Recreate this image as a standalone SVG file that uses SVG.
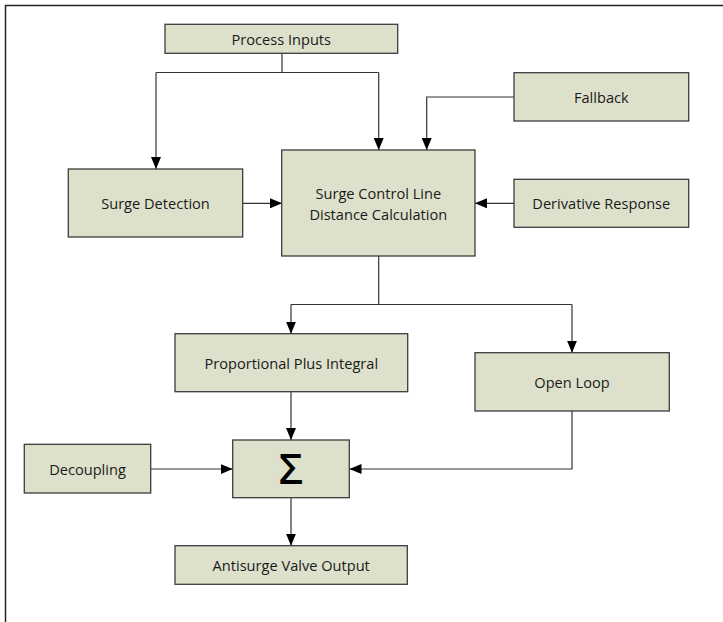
<svg xmlns="http://www.w3.org/2000/svg" width="723" height="622" viewBox="0 0 723 622">
<style>
.box{fill:#dde1cb;stroke:#3c3c3c;stroke-width:1.3}
.lbl{font-family:"Open Sans","Liberation Sans",sans-serif;font-size:14.6px;fill:#1a1a1a;text-anchor:middle;dominant-baseline:central}
.con{fill:none;stroke:#333;stroke-width:1.2}
</style>
<defs>
<marker id="arr" viewBox="0 0 12 10" refX="12" refY="5" markerWidth="12" markerHeight="10" markerUnits="userSpaceOnUse" orient="auto">
<path d="M0,0 L12,5 L0,10 z" fill="#000"/>
</marker>
</defs>
<rect width="723" height="622" fill="#fff"/>
<path d="M5.5,622 V5.5 H723" fill="none" stroke="#222" stroke-width="1.5"/>
<g id="connectors">
<path class="con" d="M282,53 V72.5"/>
<path class="con" d="M156,72.5 H378.7"/>
<path class="con" d="M156,72.5 V169" marker-end="url(#arr)"/>
<path class="con" d="M378.7,72.5 V150" marker-end="url(#arr)"/>
<path class="con" d="M514,97 H426.7 V150" marker-end="url(#arr)"/>
<path class="con" d="M514,203.3 H475" marker-end="url(#arr)"/>
<path class="con" d="M243,203.3 H282" marker-end="url(#arr)"/>
<path class="con" d="M378.7,256 V304.5"/>
<path class="con" d="M291,304.5 H572"/>
<path class="con" d="M291,304.5 V333.7" marker-end="url(#arr)"/>
<path class="con" d="M572,304.5 V352.7" marker-end="url(#arr)"/>
<path class="con" d="M291,391.7 V440" marker-end="url(#arr)"/>
<path class="con" d="M572,411 V469 H349.5" marker-end="url(#arr)"/>
<path class="con" d="M150.7,469 H232.7" marker-end="url(#arr)"/>
<path class="con" d="M291,497.7 V545.7" marker-end="url(#arr)"/>
</g>
<g id="process-inputs"><rect class="box" x="165" y="24.3" width="232.7" height="29"/><text class="lbl" x="281.3" y="39">Process Inputs</text></g>
<g id="surge-detection"><rect class="box" x="68.3" y="169" width="174.4" height="68"/><text class="lbl" x="155.5" y="203">Surge Detection</text></g>
<g id="scl"><rect class="box" x="281.7" y="150" width="193.3" height="106"/><text class="lbl" x="378.3" y="193">Surge Control Line</text><text class="lbl" x="378.3" y="214">Distance Calculation</text></g>
<g id="fallback"><rect class="box" x="514" y="72.7" width="174.7" height="48.3"/><text class="lbl" x="601.3" y="97">Fallback</text></g>
<g id="derivative-response"><rect class="box" x="514" y="179.3" width="174.7" height="48"/><text class="lbl" x="601.3" y="203.3">Derivative Response</text></g>
<g id="ppi"><rect class="box" x="175" y="333.7" width="232.7" height="58"/><text class="lbl" x="291.3" y="362.7">Proportional Plus Integral</text></g>
<g id="open-loop"><rect class="box" x="475" y="352.7" width="194.3" height="58.3"/><text class="lbl" x="572" y="381.8">Open Loop</text></g>
<g id="sum"><rect class="box" x="232.7" y="440" width="116.6" height="57.7"/><text x="291" y="467.5" font-family="'Open Sans','DejaVu Sans',sans-serif" font-size="42px" font-weight="600" text-anchor="middle" dominant-baseline="central" fill="#000">Σ</text></g>
<g id="decoupling"><rect class="box" x="24.3" y="444.3" width="126.4" height="48.7"/><text class="lbl" x="87.5" y="468.7">Decoupling</text></g>
<g id="antisurge"><rect class="box" x="175" y="545.7" width="232.3" height="38.6"/><text class="lbl" x="291.2" y="565">Antisurge Valve Output</text></g>
</svg>
